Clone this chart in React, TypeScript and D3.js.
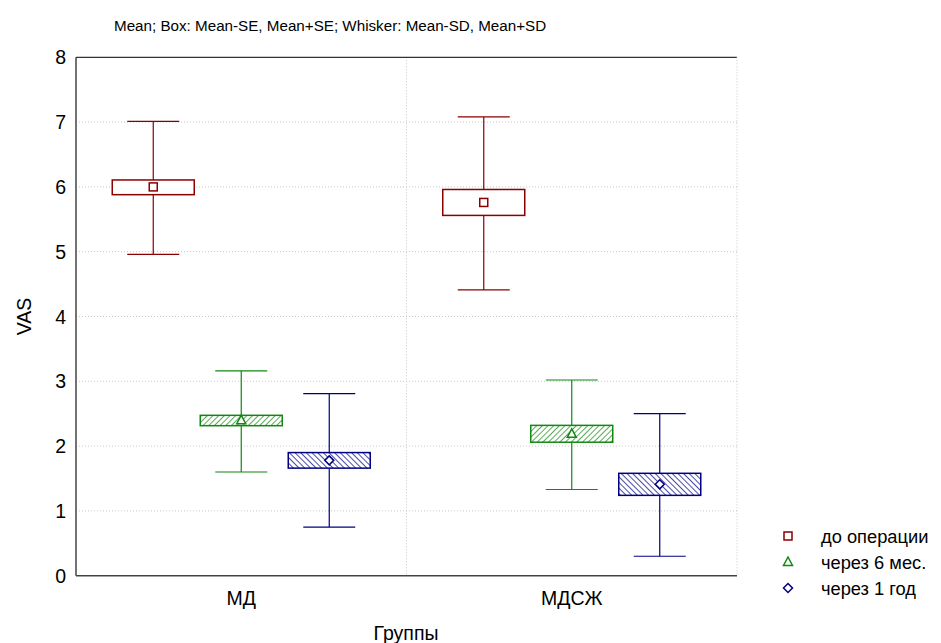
import React from 'react';
import * as d3 from 'd3';

// groups and series
const groups = ['МД', 'МДСЖ'];
const seriesNames = ['до операции', 'через 6 мес.', 'через 1 год'];
const seriesColors = ['#8b0000', '#118811', '#000080'];

// values per series, one entry per group
const means = [[6.0, 5.76], [2.4, 2.19], [1.78, 1.41]];
const seLow = [[5.88, 5.56], [2.315, 2.06], [1.66, 1.24]];
const seHigh = [[6.107, 5.96], [2.475, 2.32], [1.9, 1.58]];
const sdLow = [[4.96, 4.41], [1.6, 1.33], [0.75, 0.3]];
const sdHigh = [[7.01, 7.08], [3.16, 3.02], [2.81, 2.5]];

const yTicks = [0, 1, 2, 3, 4, 5, 6, 7, 8];

const font = 'Liberation Sans, Arial, sans-serif';

function Marker({ kind, x, y, color }: { kind: number; x: number; y: number; color: string }) {
  if (kind === 0) {
    return <rect x={x - 4} y={y - 4} width={8} height={8} fill="#fff" stroke={color} strokeWidth={1.5} />;
  }
  if (kind === 1) {
    return <path d={`M${x},${y - 5}L${x + 4.5},${y + 3.5}L${x - 4.5},${y + 3.5}Z`} fill="#fff" stroke={color} strokeWidth={1.5} />;
  }
  return <path d={`M${x},${y - 4.5}L${x + 4.5},${y}L${x},${y + 4.5}L${x - 4.5},${y}Z`} fill="#fff" stroke={color} strokeWidth={1.5} />;
}

export default function App() {
  const left = 76, right = 737, top = 57.3, bottom = 575.7;

  const x = d3.scaleBand().domain(groups).range([left, right]).paddingInner(0);
  const offset = d3.scalePoint().domain(seriesNames).range([-88, 88]);
  const y = d3.scaleLinear().domain([0, 8]).range([bottom, top]);

  const boxHalf = 41;
  const capHalf = 26;
  const fills = ['#fff', 'url(#hatchGreen)', 'url(#hatchBlue)'];

  return (
    <svg width={941} height={643} style={{ position: 'absolute', left: 0, top: 0, background: '#fff' }}>
      <defs>
        <pattern id="hatchGreen" width={4} height={4} patternUnits="userSpaceOnUse" patternTransform="rotate(45)">
          <rect width={4} height={4} fill="#fff" />
          <line x1={0} y1={0} x2={0} y2={4} stroke="#118811" strokeWidth={1.4} />
        </pattern>
        <pattern id="hatchBlue" width={4} height={4} patternUnits="userSpaceOnUse" patternTransform="rotate(-45)">
          <rect width={4} height={4} fill="#fff" />
          <line x1={0} y1={0} x2={0} y2={4} stroke="#000080" strokeWidth={1.4} />
        </pattern>
      </defs>

      <text x={114} y={31} fontFamily={font} fontSize={15.2} fill="#000">
        Mean; Box: Mean-SE, Mean+SE; Whisker: Mean-SD, Mean+SD
      </text>

      {/* grid */}
      {yTicks.slice(1, -1).map(t => (
        <line key={t} x1={left} x2={right} y1={y(t)} y2={y(t)} stroke="#c8c8c8" strokeDasharray="1,2" />
      ))}
      <line x1={left + x.bandwidth()} x2={left + x.bandwidth()} y1={top} y2={bottom} stroke="#c8c8c8" strokeDasharray="1,2" />

      {/* frame */}
      <line x1={left} x2={right} y1={top} y2={top} stroke="#000" strokeWidth={1} />
      <line x1={right} x2={right} y1={top} y2={bottom} stroke="#c8c8c8" strokeWidth={1} strokeDasharray="1,2" />
      <line x1={left} x2={left} y1={top} y2={bottom} stroke="#444" strokeWidth={1.5} />
      <line x1={left} x2={right} y1={bottom} y2={bottom} stroke="#444" strokeWidth={1.5} />

      {/* y ticks */}
      {yTicks.map(t => (
        <text key={t} x={66} y={y(t) + 7} textAnchor="end" fontFamily={font} fontSize={19.5} fill="#000">{t}</text>
      ))}
      <text transform={`translate(31,${(top + bottom) / 2}) rotate(-90)`} textAnchor="middle" fontFamily={font} fontSize={19.5} fill="#000">VAS</text>

      {/* x labels */}
      {groups.map(g => (
        <text key={g} x={(x(g) ?? 0) + x.bandwidth() / 2} y={605} textAnchor="middle" fontFamily={font} fontSize={19.5} fill="#000">{g}</text>
      ))}
      <text x={406} y={640} textAnchor="middle" fontFamily={font} fontSize={19.5} fill="#000">Группы</text>

      {/* boxes */}
      {seriesNames.map((s, si) => groups.map((g, gi) => {
        const cx = (x(g) ?? 0) + x.bandwidth() / 2 + (offset(s) ?? 0);
        const c = seriesColors[si];
        return (
          <g key={s + g}>
            <line x1={cx} x2={cx} y1={y(sdHigh[si][gi])} y2={y(seHigh[si][gi])} stroke={c} strokeWidth={1.2} />
            <line x1={cx} x2={cx} y1={y(seLow[si][gi])} y2={y(sdLow[si][gi])} stroke={c} strokeWidth={1.2} />
            <line x1={cx - capHalf} x2={cx + capHalf} y1={y(sdHigh[si][gi])} y2={y(sdHigh[si][gi])} stroke={c} strokeWidth={1.2} />
            <line x1={cx - capHalf} x2={cx + capHalf} y1={y(sdLow[si][gi])} y2={y(sdLow[si][gi])} stroke={c} strokeWidth={1.2} />
            <rect x={cx - boxHalf} width={boxHalf * 2} y={y(seHigh[si][gi])} height={y(seLow[si][gi]) - y(seHigh[si][gi])}
              fill={fills[si]} stroke={c} strokeWidth={1.5} />
            <Marker kind={si} x={cx} y={y(means[si][gi])} color={c} />
          </g>
        );
      }))}

      {/* legend */}
      {seriesNames.map((s, si) => (
        <g key={s}>
          <Marker kind={si} x={788} y={536 + si * 26} color={seriesColors[si]} />
          <text x={821} y={543 + si * 26} fontFamily={font} fontSize={18.3} fill="#000">{s}</text>
        </g>
      ))}
    </svg>
  );
}
